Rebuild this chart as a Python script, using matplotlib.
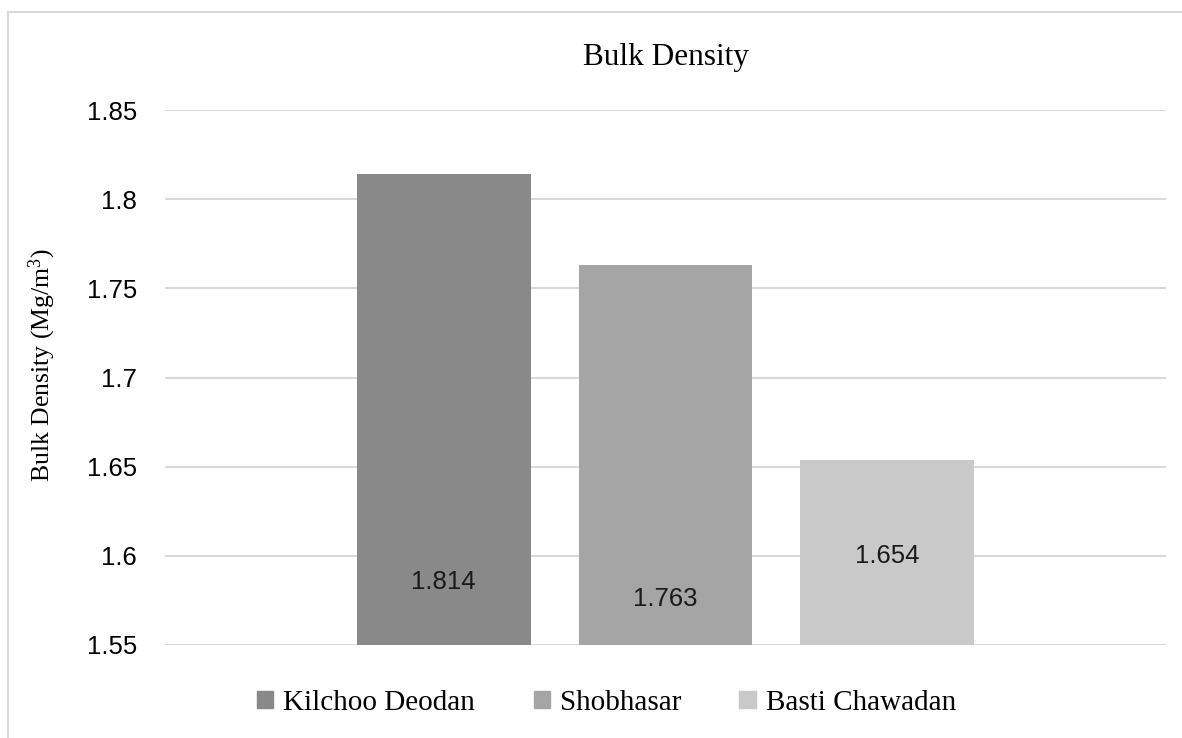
import matplotlib
matplotlib.use('Agg')
import matplotlib.pyplot as plt
from matplotlib.patches import Patch
from matplotlib.lines import Line2D

# data
sites = ['Kilchoo Deodan', 'Shobhasar', 'Basti Chawadan']
density = [1.814, 1.763, 1.654]
label_y = [1.5855, 1.5758, 1.5999]  # where the value labels sit inside the bars
colors = ['#898989', '#a5a5a5', '#c9c9c9']
yticks = [1.55, 1.6, 1.65, 1.7, 1.75, 1.8, 1.85]

plt.rcParams['mathtext.fontset'] = 'custom'
plt.rcParams['mathtext.rm'] = 'Liberation Serif'
plt.rcParams['mathtext.it'] = 'Liberation Serif:italic'

W, H = 1182, 738
fig = plt.figure(figsize=(W / 100, H / 100), dpi=100)
ax = fig.add_axes([165 / W, 1 - 645 / H, (1166 - 165) / W, (645 - 110) / H])

x = list(range(len(sites)))
ax.bar(x, density, width=0.784, color=colors, zorder=2)
for xi, v, ly in zip(x, density, label_y):
    ax.text(xi, ly, '%.3f' % v, ha='center', va='center',
            family='Liberation Sans', fontsize=18.5, color='#1a1a1a', zorder=3)

ax.set_xlim(-1.257, 3.257)
ax.set_ylim(1.55, 1.85)
ax.set_yticks(yticks)
ax.set_yticklabels(['%g' % t for t in yticks], family='Liberation Sans', fontsize=18.5)
ax.tick_params(axis='y', length=0, pad=20)
ax.set_xticks([])
ax.grid(axis='y', color='#d9d9d9', linewidth=1.5, zorder=0)
for s in ax.spines.values():
    s.set_visible(False)

fig.text(666 / W, 1 - 58 / H, 'Bulk Density', ha='center', va='center',
         family='Liberation Serif', fontsize=22.5)
fig.text(42 / W, 1 - 365 / H, r'Bulk Density (Mg/m$^{3}$)', rotation=90,
         ha='center', va='center', family='Liberation Serif', fontsize=18.5)

handles = [Patch(color=c, label=s) for c, s in zip(colors, sites)]
fig.legend(handles=handles, loc='center', bbox_to_anchor=(606.5 / W, 1 - 703 / H),
           ncol=3, frameon=False, prop={'family': 'Liberation Serif', 'size': 21},
           handlelength=0.55, handleheight=0.55, handletextpad=0.35, columnspacing=2.0)

# outer chart border (only left and top edges fall inside the picture)
fig.add_artist(Line2D([8 / W, 8 / W], [0, 1 - 12 / H], color='#d9d9d9', linewidth=1.5))
fig.add_artist(Line2D([8 / W, 1], [1 - 12 / H, 1 - 12 / H], color='#d9d9d9', linewidth=1.5))

fig.savefig('out.png', dpi=100, facecolor='white')
